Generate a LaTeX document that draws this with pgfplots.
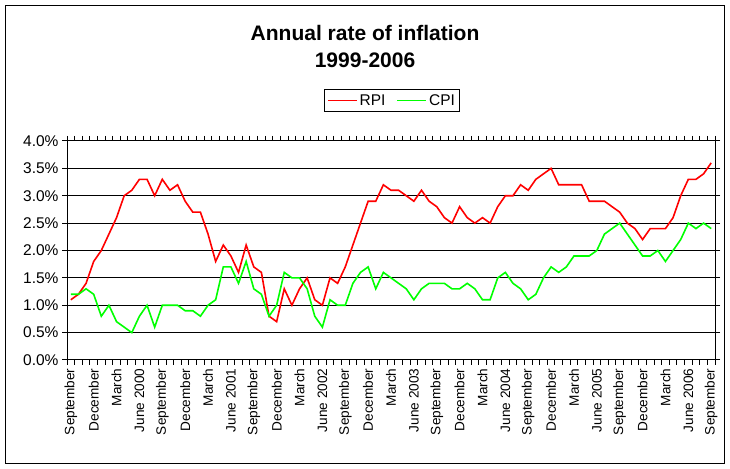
\documentclass[border=0pt]{standalone}
\usepackage{pgfplots}
\pgfplotsset{compat=1.18}
\usepackage{pgfplotstable}
\usepackage{fontspec}
\setmainfont{Liberation Sans}

\definecolor{rpired}{RGB}{255,0,0}
\definecolor{cpigreen}{RGB}{0,255,0}

% monthly, Sep 1999 (m=0) to Sep 2006 (m=84)
\pgfplotstableread{
m rpi cpi
0 1.1 1.2
1 1.2 1.2
2 1.4 1.3
3 1.8 1.2
4 2.0 0.8
5 2.3 1.0
6 2.6 0.7
7 3.0 0.6
8 3.1 0.5
9 3.3 0.8
10 3.3 1.0
11 3.0 0.6
12 3.3 1.0
13 3.1 1.0
14 3.2 1.0
15 2.9 0.9
16 2.7 0.9
17 2.7 0.8
18 2.3 1.0
19 1.8 1.1
20 2.1 1.7
21 1.9 1.7
22 1.6 1.4
23 2.1 1.8
24 1.7 1.3
25 1.6 1.2
26 0.8 0.8
27 0.7 1.0
28 1.3 1.6
29 1.0 1.5
30 1.3 1.5
31 1.5 1.3
32 1.1 0.8
33 1.0 0.6
34 1.5 1.1
35 1.4 1.0
36 1.7 1.0
37 2.1 1.4
38 2.5 1.6
39 2.9 1.7
40 2.9 1.3
41 3.2 1.6
42 3.1 1.5
43 3.1 1.4
44 3.0 1.3
45 2.9 1.1
46 3.1 1.3
47 2.9 1.4
48 2.8 1.4
49 2.6 1.4
50 2.5 1.3
51 2.8 1.3
52 2.6 1.4
53 2.5 1.3
54 2.6 1.1
55 2.5 1.1
56 2.8 1.5
57 3.0 1.6
58 3.0 1.4
59 3.2 1.3
60 3.1 1.1
61 3.3 1.2
62 3.4 1.5
63 3.5 1.7
64 3.2 1.6
65 3.2 1.7
66 3.2 1.9
67 3.2 1.9
68 2.9 1.9
69 2.9 2.0
70 2.9 2.3
71 2.8 2.4
72 2.7 2.5
73 2.5 2.3
74 2.4 2.1
75 2.2 1.9
76 2.4 1.9
77 2.4 2.0
78 2.4 1.8
79 2.6 2.0
80 3.0 2.2
81 3.3 2.5
82 3.3 2.4
83 3.4 2.5
84 3.6 2.4
}\inflation

\begin{document}
\begin{tikzpicture}[x=1bp,y=1bp]
\path[use as bounding box] (0,0) rectangle (730,469);
\draw[black, line width=1bp] (5.5,5.5) rectangle (724.5,463.5);
\begin{axis}[
  at={(67bp,109bp)}, anchor=south west,
  scale only axis, width=648bp, height=219bp,
  xmin=-0.5, xmax=84.5, ymin=0, ymax=4,
  axis line style={black, line width=1bp},
  every tick/.style={black, line width=1bp},
  tick align=outside,
  xtick={0,3,...,84},
  xticklabels={September,December,March,June 2000,September,December,March,June 2001,September,December,March,June 2002,September,December,March,June 2003,September,December,March,June 2004,September,December,March,June 2005,September,December,March,June 2006,September},
  x tick label style={rotate=90, anchor=east, font=\fontsize{13.6bp}{15bp}\selectfont},
  major x tick style={draw=none},
  minor xtick={-0.5,0.5,...,84.5},
  minor tick length=5bp,
  major tick length=5bp,
  ytick={0,0.5,...,4},
  yticklabels={0.0\%,0.5\%,1.0\%,1.5\%,2.0\%,2.5\%,3.0\%,3.5\%,4.0\%},
  y tick label style={font=\fontsize{15.5bp}{17bp}\selectfont},
  ymajorgrids,
  major grid style={black, line width=1bp},
  title={Annual rate of inflation\\1999-2006},
  title style={at={(0.4599,1.515)}, anchor=north, align=center,
    font=\bfseries\fontsize{21bp}{27bp}\selectfont},
  legend columns=2,
  legend style={at={(0.5015,1.2374)}, anchor=north, draw=black, line width=1bp,
    font=\fontsize{15.5bp}{17bp}\selectfont, inner sep=3bp,
    /tikz/every even column/.append style={column sep=9bp}},
  legend image code/.code={\draw[#1] (0bp,0bp) -- (29bp,0bp);},
]
\addplot[color=rpired, line width=1.6bp] table[x=m, y=rpi]{\inflation};
\addlegendentry{RPI}
\addplot[color=cpigreen, line width=1.6bp] table[x=m, y=cpi]{\inflation};
\addlegendentry{CPI}
\end{axis}
\end{tikzpicture}
\end{document}
